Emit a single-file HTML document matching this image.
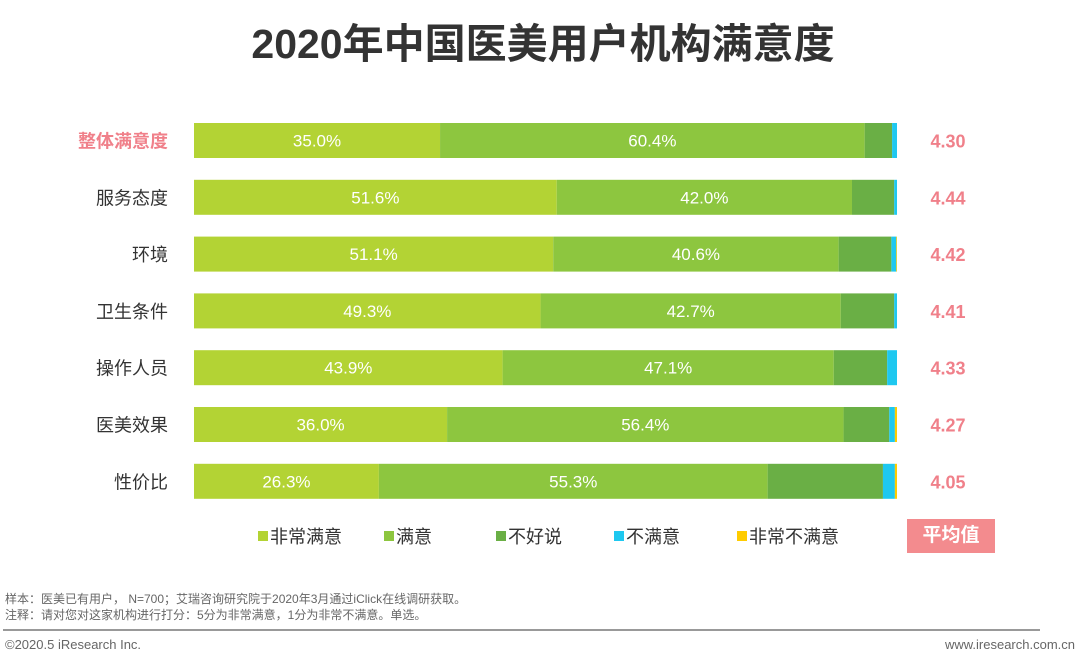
<!DOCTYPE html>
<html><head><meta charset="utf-8"><style>
body{margin:0;width:1080px;height:665px;background:#fff;font-family:"Liberation Sans","Noto Sans CJK SC",sans-serif;position:relative;overflow:hidden}
.t{position:absolute;white-space:nowrap}
</style></head><body>
<div class="t" style="left:0;width:1086px;text-align:center;top:10px;font-size:41px;font-weight:bold;color:#333">2020年中国医美用户机构满意度</div>
<svg id="chart" width="1080" height="560" style="position:absolute;left:0;top:0"></svg>
<div class="t" style="left:907px;top:519px;width:88px;height:34px;background:#f38b8e;color:#fff;font-weight:bold;font-size:19px;text-align:center;line-height:34px">平均值</div>
<div class="t" style="left:5px;top:590px;font-size:12px;color:#666">样本：医美已有用户， N=700；艾瑞咨询研究院于2020年3月通过iClick在线调研获取。</div>
<div class="t" style="left:5px;top:606px;font-size:12px;color:#666">注释：请对您对这家机构进行打分：5分为非常满意，1分为非常不满意。单选。</div>
<div style="position:absolute;left:3px;top:629px;width:1037px;height:2px;background:#999"></div>
<div class="t" style="left:5px;top:637px;font-size:13px;color:#666">©2020.5 iResearch Inc.</div>
<div class="t" style="right:5px;top:637px;font-size:13px;color:#666">www.iresearch.com.cn</div>
<script>
const categories=["整体满意度","服务态度","环境","卫生条件","操作人员","医美效果","性价比"];
const verySatisfied=[35.0,51.6,51.1,49.3,43.9,36.0,26.3];
const satisfied=[60.4,42.0,40.6,42.7,47.1,56.4,55.3];
const neutral=[3.9,6.0,7.5,7.6,7.6,6.5,16.4];
const dissatisfied=[0.7,0.4,0.7,0.4,1.4,0.8,1.7];
const veryDissatisfied=[0.0,0.0,0.1,0.0,0.0,0.3,0.3];
const averages=["4.30","4.44","4.42","4.41","4.33","4.27","4.05"];
const seriesNames=["非常满意","满意","不好说","不满意","非常不满意"];
const colors=["#b3d334","#8dc63f","#6aaf45","#1ec8f0","#ffcc00"];
const svg=document.getElementById('chart');const NS="http://www.w3.org/2000/svg";
const x0=194,w=703,y0=123,step=56.8,bh=35;
const xs=v=>v/100*w;const yr=i=>y0+i*step;
function mk(t,a){const e=document.createElementNS(NS,t);for(const k in a)e.setAttribute(k,a[k]);svg.appendChild(e);return e;}
const series=[verySatisfied,satisfied,neutral,dissatisfied,veryDissatisfied];
categories.forEach((c,i)=>{
 let cx=x0;
 series.forEach((s,j)=>{
  const ww=xs(s[i]);
  const r=mk('rect',{x:cx,y:yr(i),width:ww,height:bh,fill:colors[j]});
  
  
  if(j<2){const t=mk('text',{x:cx+ww/2,y:yr(i)+bh/2+6,'text-anchor':'middle','font-size':17,fill:'#fff'});t.textContent=s[i].toFixed(1)+'%';
   
   }
  cx+=ww;
 });
 const l=mk('text',{x:168,y:yr(i)+bh/2+7,'text-anchor':'end','font-size':18,fill:i==0?'#f0808a':'#333','font-weight':i==0?'bold':'normal'});l.textContent=c;
 
 
 const a=mk('text',{x:948,y:yr(i)+bh/2+7,'text-anchor':'middle','font-size':18,'font-weight':'bold',fill:'#f0808a'});a.textContent=averages[i];
 
 
});
const lx=[258,384,496,614,737];
seriesNames.forEach((n,j)=>{
 const r=mk('rect',{x:lx[j],y:531,width:10,height:10,fill:colors[j]});
 
 
 const t=mk('text',{x:lx[j]+12,y:543,'font-size':18,fill:'#333'});t.textContent=n;
 
 
});
</script>
</body></html>
